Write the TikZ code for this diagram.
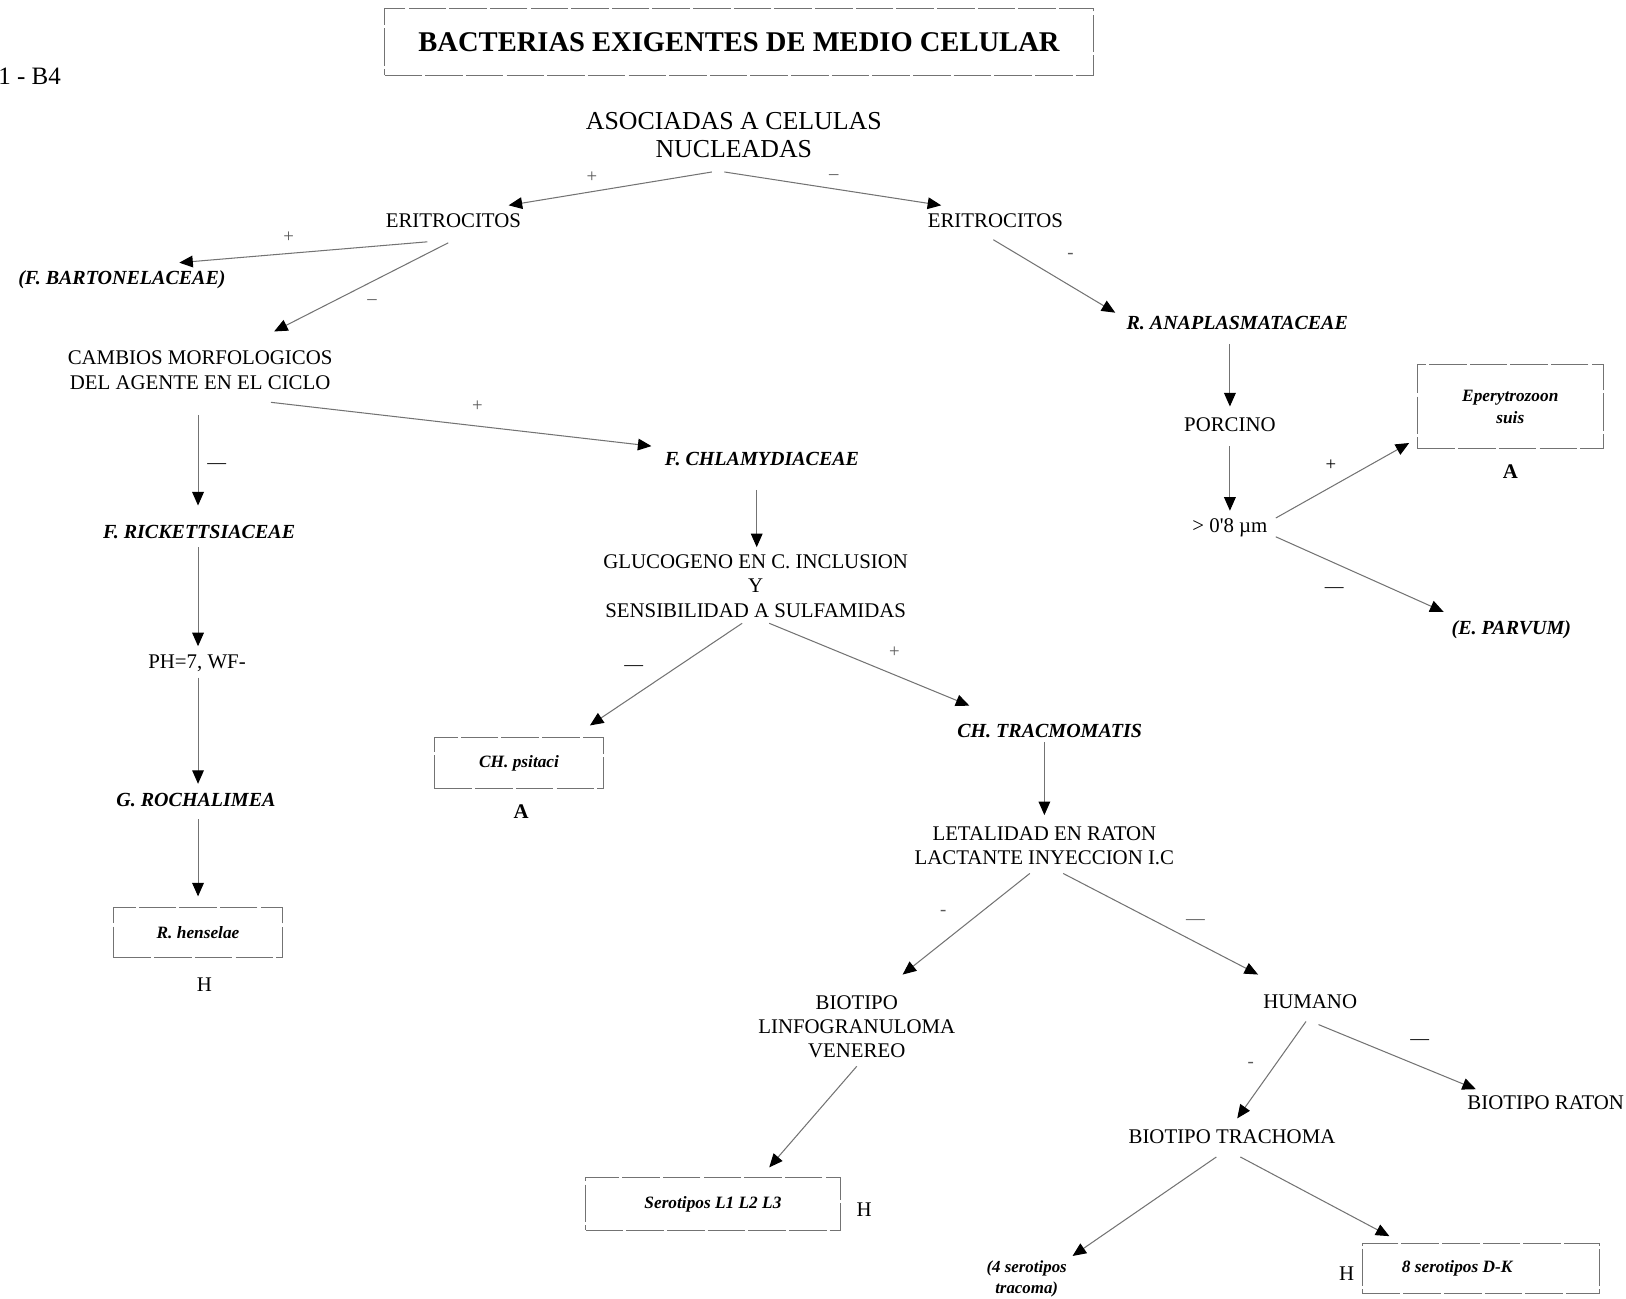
\documentclass[tikz,border=0pt]{standalone}
\usepackage{fontspec}
\setmainfont{Liberation Serif}
\usetikzlibrary{arrows.meta}
\begin{document}
\begin{tikzpicture}[x=0.5pt,y=-0.5pt,
  txt/.style={font=\fontsize{10}{11.75}\selectfont, align=center, inner sep=0pt},
  big/.style={font=\fontsize{12.4}{13.5}\selectfont, align=center, inner sep=0pt},
  bi/.style={font=\fontsize{9.6}{11}\selectfont\bfseries\itshape, align=center, inner sep=0pt},
  sm/.style={font=\fontsize{8.3}{10.5}\selectfont\bfseries\itshape, align=center, inner sep=0pt},
  boxed/.style={draw=black!55, line width=0.5pt, dash pattern=on 18pt off 1.5pt},
  sign/.style={font=\fontsize{9}{9}\selectfont, text=black!65, inner sep=0pt},
  con/.style={draw=black!55, line width=0.5pt, -{Triangle[length=6.5pt,width=5.6pt,color=black,fill=black]}},
  plain/.style={draw=black!60, line width=0.5pt}
]
\useasboundingbox (0,0) rectangle (1560,1246);

% title and corner label
\node[anchor=west, font=\fontsize{12}{12}\selectfont, inner sep=0pt] (b4) at (-2,73) {1 - B4};
\node[boxed, font=\fontsize{13.7}{14}\selectfont\bfseries, minimum width=340pt, minimum height=32pt, inner sep=0pt] (title) at (709,40) {BACTERIAS EXIGENTES DE MEDIO CELULAR};

% nodes
\node[big] (asoc) at (704,130) {ASOCIADAS A CELULAS\\NUCLEADAS};
\node[txt] (eritL) at (435,212) {ERITROCITOS};
\node[txt] (eritR) at (955,212) {ERITROCITOS};
\node[bi] (bart) at (117,268) {(F. BARTONELACEAE)};
\node[txt, font=\fontsize{10}{12}\selectfont] (camb) at (192,355) {CAMBIOS MORFOLOGICOS\\DEL AGENTE EN EL CICLO};
\node[bi] (chlam) at (731,440) {F. CHLAMYDIACEAE};
\node[bi] (rick) at (191,510) {F. RICKETTSIACEAE};
\node[txt] (ph) at (189,636) {PH=7, WF-};
\node[bi] (roch) at (188,768) {G. ROCHALIMEA};
\node[boxed, sm, minimum width=81pt, minimum height=24pt] (hens) at (190,895) {R. henselae};
\node[txt] (hensH) at (196,945) {H};

\node[txt] (gluc) at (725,562) {GLUCOGENO EN C. INCLUSION\\Y\\SENSIBILIDAD A SULFAMIDAS};
\node[boxed, sm, minimum width=81pt, minimum height=24.5pt] (psit) at (498,732) {CH. psitaci};
\node[txt, font=\fontsize{10}{10}\selectfont\bfseries] (psitA) at (500,779) {A};
\node[bi] (trac) at (1007,701) {CH. TRACMOMATIS};
\node[txt, font=\fontsize{10}{11.5}\selectfont] (leta) at (1002,811) {LETALIDAD EN RATON\\LACTANTE INYECCION I.C};
\node[txt, font=\fontsize{10}{11.5}\selectfont] (linfo) at (822,985) {BIOTIPO\\LINFOGRANULOMA\\VENEREO};
\node[txt] (humano) at (1257,961) {HUMANO};
\node[boxed, sm, minimum width=122pt, minimum height=25.5pt] (sero) at (684,1155) {Serotipos L1 L2 L3};
\node[txt] (seroH) at (829,1161) {H};
\node[txt] (trach) at (1182,1091) {BIOTIPO TRACHOMA};
\node[txt] (raton) at (1483,1058) {BIOTIPO RATON};
\node[sm, font=\fontsize{8.1}{10}\selectfont\bfseries\itshape] (cuatro) at (985,1227) {(4 serotipos\\tracoma)};
\node[boxed, sm, minimum width=113.5pt, minimum height=24pt] (ocho) at (1421,1217) {\hspace*{-23pt}8 serotipos D-K};
\node[txt] (ochoH) at (1292,1222) {H};

\node[bi] (anap) at (1187,310) {R. ANAPLASMATACEAE};
\node[txt] (porc) at (1180,407) {PORCINO};
\node[txt] (um) at (1180,506) {> 0\textquotesingle 8 µm};
\node[boxed, sm, minimum width=89pt, minimum height=40.5pt, font=\fontsize{8.3}{10.5}\selectfont\bfseries\itshape] (eper) at (1449,390) {Eperytrozoon\\suis};
\node[txt, font=\fontsize{10}{10}\selectfont\bfseries] (eperA) at (1449,452) {A};
\node[bi] (parv) at (1450,604) {(E. PARVUM)};

% connectors
\draw[con] ([shift={(-21,35)}]asoc.center) -- ([shift={(53,-15)}]eritL.center);
\draw[con] ([shift={(-9,35)}]asoc.center) -- ([shift={(-52,-15)}]eritR.center);
\draw[con] ([shift={(-25,20)}]eritL.center) -- ([shift={(55,-16)}]bart.center);
\draw[con] ([shift={(-5,21)}]eritL.center) -- ([shift={(71,-37)}]camb.center);
\draw[con] ([shift={(-2,43)}]camb.center) -- ([shift={(-1,-25)}]rick.center);
\draw[con] ([shift={(68,31)}]camb.center) -- ([shift={(-106,-12)}]chlam.center);
\draw[con] ([shift={(-1,15)}]rick.center) -- ([shift={(1,-16)}]ph.center);
\draw[con] ([shift={(1,14)}]ph.center) -- ([shift={(2,-16)}]roch.center);
\draw[con] ([shift={(2,18)}]roch.center) -- ([shift={(0,-35)}]hens.center);
\draw[con] ([shift={(-5,30)}]chlam.center) -- ([shift={(1,-37)}]gluc.center);
\draw[con] ([shift={(-13,36)}]gluc.center) -- ([shift={(68,-36)}]psit.center);
\draw[con] ([shift={(13,36)}]gluc.center) -- ([shift={(-77,-24)}]trac.center);
\draw[con] ([shift={(-5,11)}]trac.center) -- ([shift={(0,-29)}]leta.center);
\draw[con] ([shift={(-14,27)}]leta.center) -- ([shift={(44,-50)}]linfo.center);
\draw[con] ([shift={(18,27)}]leta.center) -- ([shift={(-50,-26)}]humano.center);
\draw[con] ([shift={(0,38)}]linfo.center) -- ([shift={(54,-35)}]sero.center);
\draw[con] ([shift={(-4,19)}]humano.center) -- ([shift={(5,-18)}]trach.center);
\draw[con] ([shift={(8,22)}]humano.center) -- ([shift={(-67,-13)}]raton.center);
\draw[con] ([shift={(-15,19)}]trach.center) -- ([shift={(44,-22)}]cuatro.center);
\draw[con] ([shift={(8,19)}]trach.center) -- ([shift={(-88,-31)}]ocho.center);
\draw[con] ([shift={(-2,18)}]eritR.center) -- ([shift={(-117,-10)}]anap.center);
\draw[con] ([shift={(-7,20)}]anap.center) -- ([shift={(0,-17)}]porc.center);
\draw[con] ([shift={(0,21)}]porc.center) -- ([shift={(0,-16)}]um.center);
\draw[con] ([shift={(44,-9)}]um.center) -- ([shift={(-97,35)}]eper.center);
\draw[con] ([shift={(44,9)}]um.center) -- ([shift={(-65,-17)}]parv.center);

% signs
\node[sign] (s1) at (568,170) {+};
\node[sign] (s2) at (800,170) {--};
\node[sign] (s3) at (277,228) {+};
\node[sign] (s4) at (357,290) {--};
\node[sign, text=black] (s5) at (208,447) {—};
\node[sign] (s6) at (458,390) {+};
\node[sign, text=black] (s7) at (608,641) {—};
\node[sign] (s8) at (858,626) {+};
\node[sign] (s9) at (905,876) {-};
\node[sign] (s10) at (1147,885) {—};
\node[sign] (s11) at (1200,1022) {-};
\node[sign, text=black] (s12) at (1362,1000) {—};
\node[sign] (s13) at (1027,246) {-};
\node[sign, text=black] (s14) at (1277,446) {+};
\node[sign, text=black] (s15) at (1280,566) {—};
\end{tikzpicture}
\end{document}
